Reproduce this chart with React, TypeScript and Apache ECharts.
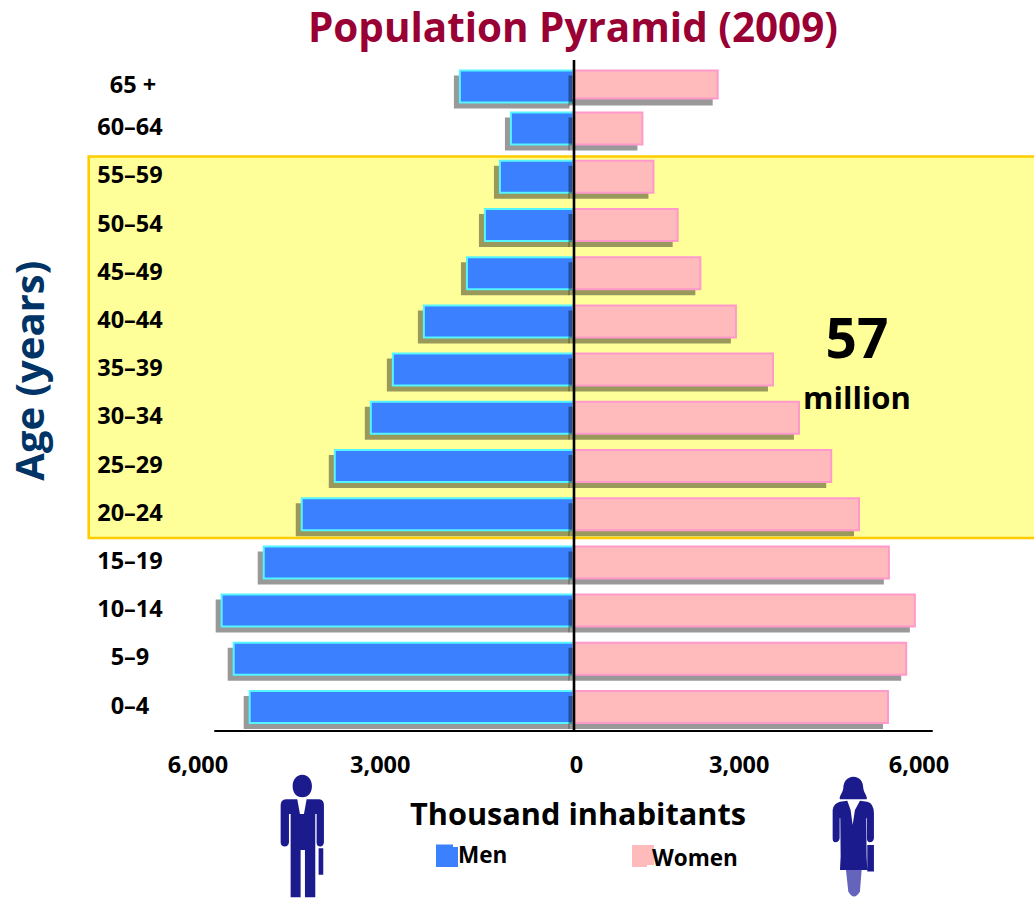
import React, { useEffect, useRef } from "react";
import * as echarts from "echarts";

const ages = ["0–4", "5–9", "10–14", "15–19", "20–24", "25–29", "30–34", "35–39", "40–44", "45–49", "50–54", "55–59", "60–64", "65 +"];
const men = [5436, 5704, 5905, 5201, 4565, 4012, 3409, 3040, 2521, 1800, 1499, 1248, 1064, 1918];
const women = [5280, 5585, 5730, 5295, 4795, 4330, 3790, 3355, 2735, 2140, 1760, 1355, 1170, 2430];
const xTicks = [-6000, -3000, 0, 3000, 6000];

const FONT = "'Open Sans', 'Noto Sans', sans-serif";
const MEN_FILL = "#3B80FF";
const MEN_EDGE = "#55F5FF";
const WOMEN_FILL = "#FFBBBB";
const WOMEN_EDGE = "#FF99CC";
const SHADOW = "rgba(0,0,0,0.4)";
const ICON = "#1B1B8E";

const MAN_PATH =
  "M127 104C145 104 156 120 156 138C156 158 145 172 127 172C109 172 98 158 98 138C98 120 109 104 127 104Z" +
  "M78 178L112 178L120 222L132 222L140 178L178 178Q192 180 192 196L192 308Q190 320 181 320Q170 320 170 308L170 222L166 222L166 472L135 472L135 330L122 330L122 472L92 472L92 222L87 222L87 308Q85 320 74 320Q63 320 62 308L62 196Q62 180 78 178Z" +
  "M176 325L190 325L190 405L176 405Z";
const WOMAN_PATH =
  "M130 50C150 50 160 65 160 85C162 100 174 110 170 118L90 118C86 110 98 100 100 85C100 65 112 50 130 50Z" +
  "M90 125L112 122L122 150L128 195L135 150L150 122L172 125Q192 130 192 160L192 235Q190 247 180 247Q171 247 171 235L171 175L169 175L170 290L172 330L90 330L92 290L91 175L89 175L89 235Q87 247 76 247Q68 247 68 235L68 150Q70 130 90 125Z" +
  "M172 255L192 255L192 335L172 335Z";
const LEGS_PATH = "M108 330L155 330L150 395Q132 425 115 395Z";

echarts.graphic.registerShape("manIcon", echarts.graphic.extendPath(MAN_PATH, {}));
echarts.graphic.registerShape("womanIcon", echarts.graphic.extendPath(WOMAN_PATH, {}));
echarts.graphic.registerShape("womanLegs", echarts.graphic.extendPath(LEGS_PATH, {}));

const TOP_ROW = ages.length - 1;
const TOP_NUDGE = 6;

function barRenderer(isMen: boolean) {
  return (params: any, api: any) => {
    const row = api.value(1);
    const [vx, cy0] = api.coord([api.value(0), row]);
    const [zx] = api.coord([0, row]);
    const cy = cy0 + (row === TOP_ROW ? TOP_NUDGE : 0);
    const h = !isMen && row === TOP_ROW ? 30 : 34;
    const top = cy - 17;
    const style = isMen
      ? { fill: MEN_FILL, stroke: MEN_EDGE, lineWidth: 2 }
      : { fill: WOMEN_FILL, stroke: WOMEN_EDGE, lineWidth: 2 };
    const shadowShape = isMen
      ? { x: vx - 5, y: top + 6, width: zx - 4 - (vx - 5), height: 33 }
      : { x: zx - 5, y: top + 6, width: vx - 6 - (zx - 5), height: h + (row === TOP_ROW ? 0 : -1) };
    const barShape = isMen
      ? { x: vx + 1, y: top + 1, width: zx - vx - 1, height: h - 2 }
      : { x: zx, y: top + 1, width: vx - zx - 1, height: h - 2 };
    return {
      type: "group",
      children: [
        { type: "rect", shape: shadowShape, style: { fill: SHADOW } },
        { type: "rect", shape: barShape, style },
      ],
    };
  };
}

const tickStyle = { fontFamily: FONT, fontWeight: "bold", fontSize: 23.5, color: "#000" };

export default function App() {
  const ref = useRef<HTMLDivElement>(null);
  useEffect(() => {
    const chart = echarts.init(ref.current!, null, { renderer: "svg" });
    chart.setOption({
      animation: false,
      backgroundColor: "#ffffff",
      textStyle: { fontFamily: FONT },
      title: {
        text: "Population Pyramid (2009)",
        left: 308,
        top: 6,
        padding: 0,
        textStyle: { color: "#990033", fontFamily: FONT, fontWeight: "bold", fontSize: 40.4 },
      },
      legend: [
        {
          data: ["Men"], left: 436, top: 843, padding: 0, icon: "rect", itemWidth: 17, itemHeight: 20, selectedMode: false,
          itemStyle: { borderWidth: 0 },
          textStyle: { color: "#000", fontFamily: FONT, fontWeight: "bold", fontSize: 22.5 },
        },
        {
          data: ["Women"], left: 632, top: 846, padding: 0, icon: "rect", itemWidth: 15, itemHeight: 19, selectedMode: false,
          itemStyle: { borderWidth: 0 },
          textStyle: { color: "#000", fontFamily: FONT, fontWeight: "bold", fontSize: 22.5 },
        },
      ],
      grid: { left: 215, right: 102, top: 56.3, height: 674.8, outerBoundsMode: "none" },
      xAxis: {
        type: "value",
        min: -6000,
        max: 6000,
        interval: 3000,
        name: "Thousand inhabitants",
        nameLocation: "middle",
        nameGap: 66,
        nameTextStyle: { color: "#000", fontFamily: FONT, fontWeight: "bold", fontSize: 30.7, padding: [0, 0, 0, 9] },
        axisLine: { show: true, onZero: false, lineStyle: { color: "#000", width: 2 } },
        axisTick: { show: false },
        splitLine: { show: false },
        axisLabel: {
          margin: 21,
          color: "#000",
          formatter: (v: number) => {
            const s = Math.abs(v).toLocaleString("en-US");
            const i = xTicks.indexOf(v);
            return `{t${i}|${s}}`;
          },
          rich: {
            t0: { padding: [0, 34, 0, 0], ...tickStyle },
            t1: { padding: [0, 28, 0, 0], ...tickStyle },
            t2: { padding: [0, 0, 0, 6], ...tickStyle },
            t3: { padding: [0, 27, 0, 0], ...tickStyle },
            t4: { padding: [0, 26, 0, 0], ...tickStyle },
          },
        },
      },
      yAxis: {
        type: "category",
        data: ages,
        name: "Age (years)",
        nameLocation: "middle",
        nameRotate: 90,
        nameGap: 167,
        nameTextStyle: { color: "#003366", fontFamily: FONT, fontWeight: "bold", fontSize: 40, padding: [0, 0, 0, 46] },
        axisLine: { show: false },
        axisTick: { show: false },
        axisLabel: {
          margin: 85,
          align: "center",
          formatter: (v: string) => (v === "65 +" ? `{top|${v}}` : `{row|${v}}`),
          rich: {
            row: { padding: [0, 0, 5, 0], ...tickStyle },
            top: { padding: [7, 0, 0, 6], ...tickStyle },
          },
        },
      },
      series: [
        {
          name: "Men",
          type: "custom",
          z: 3,
          itemStyle: { color: MEN_FILL },
          renderItem: barRenderer(true),
          encode: { x: 0, y: 1 },
          data: men.map((v, i) => [-v, i]),
        },
        {
          name: "Women",
          type: "custom",
          z: 4,
          itemStyle: { color: WOMEN_FILL },
          renderItem: barRenderer(false),
          encode: { x: 0, y: 1 },
          data: women.map((v, i) => [v, i]),
        },
      ],
      graphic: [
        {
          type: "rect", z: -5, shape: { x: 88.7, y: 156.5, width: 950, height: 381.5 },
          style: { fill: "#FFFF99", stroke: "#FFCC00", lineWidth: 2.6 },
        },
        { type: "rect", z: -4, shape: { x: 436, y: 847, width: 22, height: 20 }, style: { fill: MEN_FILL } },
        { type: "rect", z: -4, shape: { x: 632, y: 845, width: 22, height: 20 }, style: { fill: WOMEN_FILL } },
        { type: "line", z: 20, shape: { x1: 574, y1: 60, x2: 574, y2: 731 }, style: { stroke: "#000", lineWidth: 2.6 } },
        {
          type: "text", z: 20, x: 857, y: 336,
          style: { text: "57", fill: "#000", font: `bold 55px ${FONT}`, textAlign: "center", textVerticalAlign: "middle" },
        },
        {
          type: "text", z: 20, x: 857, y: 397,
          style: { text: "million", fill: "#000", font: `bold 31px ${FONT}`, textAlign: "center", textVerticalAlign: "middle" },
        },
        { type: "manIcon", x: 260, y: 740, scaleX: 1 / 3, scaleY: 1 / 3, style: { fill: ICON } },
        { type: "womanIcon", x: 810, y: 760, scaleX: 1 / 3, scaleY: 1 / 3, style: { fill: ICON } },
        { type: "womanLegs", x: 810, y: 760, scaleX: 1 / 3, scaleY: 1 / 3, style: { fill: "#6464BC" } },
      ],
    });
    return () => chart.dispose();
  }, []);
  return <div ref={ref} style={{ position: "fixed", left: 0, top: 0, width: 1034, height: 898 }} />;
}
